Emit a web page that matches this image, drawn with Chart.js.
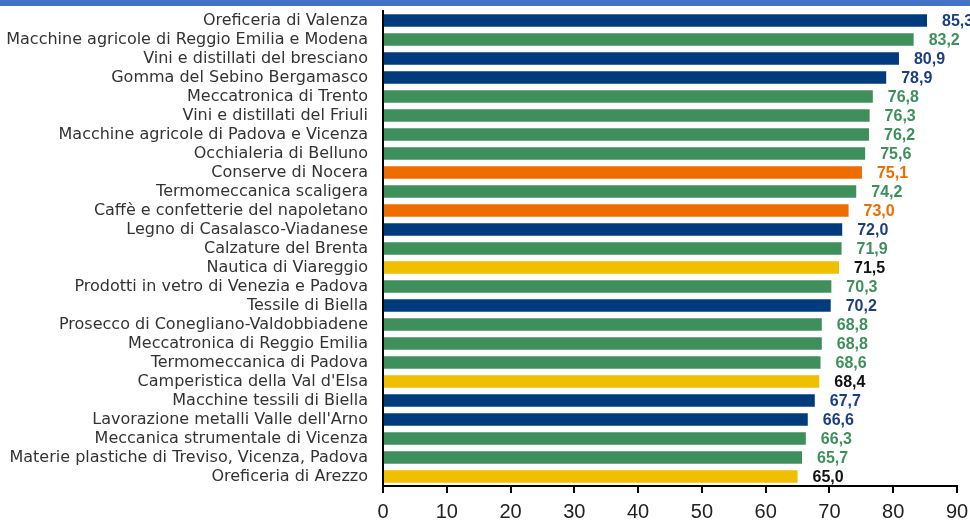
<!DOCTYPE html>
<html><head><meta charset="utf-8">
<script src="https://cdn.jsdelivr.net/npm/chart.js@4.4.0/dist/chart.umd.min.js"></script>
<style>
html,body{margin:0;padding:0;background:#fff;}
#band{position:absolute;left:0;top:0;width:970px;height:6px;background:#4472C4;}
#wrap{position:absolute;left:0;top:0;width:970px;height:522px;}
</style></head>
<body>
<div id="wrap"><canvas id="c" width="970" height="522"></canvas></div>
<div id="band"></div>
<script>
const categories = [
"Oreficeria di Valenza",
"Macchine agricole di Reggio Emilia e Modena",
"Vini e distillati del bresciano",
"Gomma del Sebino Bergamasco",
"Meccatronica di Trento",
"Vini e distillati del Friuli",
"Macchine agricole di Padova e Vicenza",
"Occhialeria di Belluno",
"Conserve di Nocera",
"Termomeccanica scaligera",
"Caffè e confetterie del napoletano",
"Legno di Casalasco-Viadanese",
"Calzature del Brenta",
"Nautica di Viareggio",
"Prodotti in vetro di Venezia e Padova",
"Tessile di Biella",
"Prosecco di Conegliano-Valdobbiadene",
"Meccatronica di Reggio Emilia",
"Termomeccanica di Padova",
"Camperistica della Val d'Elsa",
"Macchine tessili di Biella",
"Lavorazione metalli Valle dell'Arno",
"Meccanica strumentale di Vicenza",
"Materie plastiche di Treviso, Vicenza, Padova",
"Oreficeria di Arezzo"
];
const values = [85.3,83.2,80.9,78.9,76.8,76.3,76.2,75.6,75.1,74.2,73.0,72.0,71.9,71.5,70.3,70.2,68.8,68.8,68.6,68.4,67.7,66.6,66.3,65.7,65.0];
const groups = ["B","G","B","B","G","G","G","G","O","G","O","B","G","Y","G","B","G","G","G","Y","B","B","G","G","Y"];
const xTicks = [0,10,20,30,40,50,60,70,80,90];

const barColor = {B:"#003B7E",G:"#3F8F5C",O:"#EE6C00",Y:"#EFBF00"};
const labelColor = {B:"#1B3F7E",G:"#3F8F5C",O:"#EE6C00",Y:"#111111"};

const valueLabels = {
  id:"valueLabels",
  afterDatasetsDraw(chart){
    const ctx = chart.ctx;
    const meta = chart.getDatasetMeta(0);
    ctx.save();
    ctx.font = "bold 16px 'Liberation Sans', Arial, sans-serif";
    ctx.textAlign = "left";
    ctx.textBaseline = "middle";
    meta.data.forEach((bar,i)=>{
      ctx.fillStyle = labelColor[groups[i]];
      ctx.fillText(values[i].toFixed(1).replace(".",","), bar.x + 15, bar.y + 1);
    });
    ctx.restore();
  }
};

new Chart(document.getElementById("c"), {
  type:"bar",
  data:{
    labels:categories,
    datasets:[{
      data:values,
      backgroundColor:groups.map(g=>barColor[g]),
      borderWidth:0,
      categoryPercentage:0.67,
      barPercentage:1.0
    }]
  },
  options:{
    indexAxis:"y",
    responsive:false,
    animation:false,
    devicePixelRatio:1,
    layout:{padding:{top:11,left:0,right:13,bottom:0}},
    plugins:{legend:{display:false},tooltip:{enabled:false}},
    scales:{
      x:{
        min:0,max:90,
        afterBuildTicks(s){ s.ticks = xTicks.map(v=>({value:v})); },
        grid:{display:true,drawOnChartArea:false,drawTicks:true,tickLength:7,color:"#000",lineWidth:2},
        border:{display:true,color:"#000",width:2},
        ticks:{color:"#222",font:{family:"'Liberation Sans', Arial, sans-serif",size:20},padding:7,maxRotation:0},
        afterFit(s){ s.height = 36; s.paddingLeft = 0; s.paddingRight = 0; }
      },
      y:{
        grid:{display:false,drawTicks:false},
        border:{display:true,color:"#000",width:2},
        ticks:{color:"#333",font:{family:"'DejaVu Sans', sans-serif",size:16},padding:15,autoSkip:false},
        afterFit(s){ s.width = 383; s.paddingTop = 0; s.paddingBottom = 0; }
      }
    }
  },
  plugins:[valueLabels]
});
</script>
</body></html>
